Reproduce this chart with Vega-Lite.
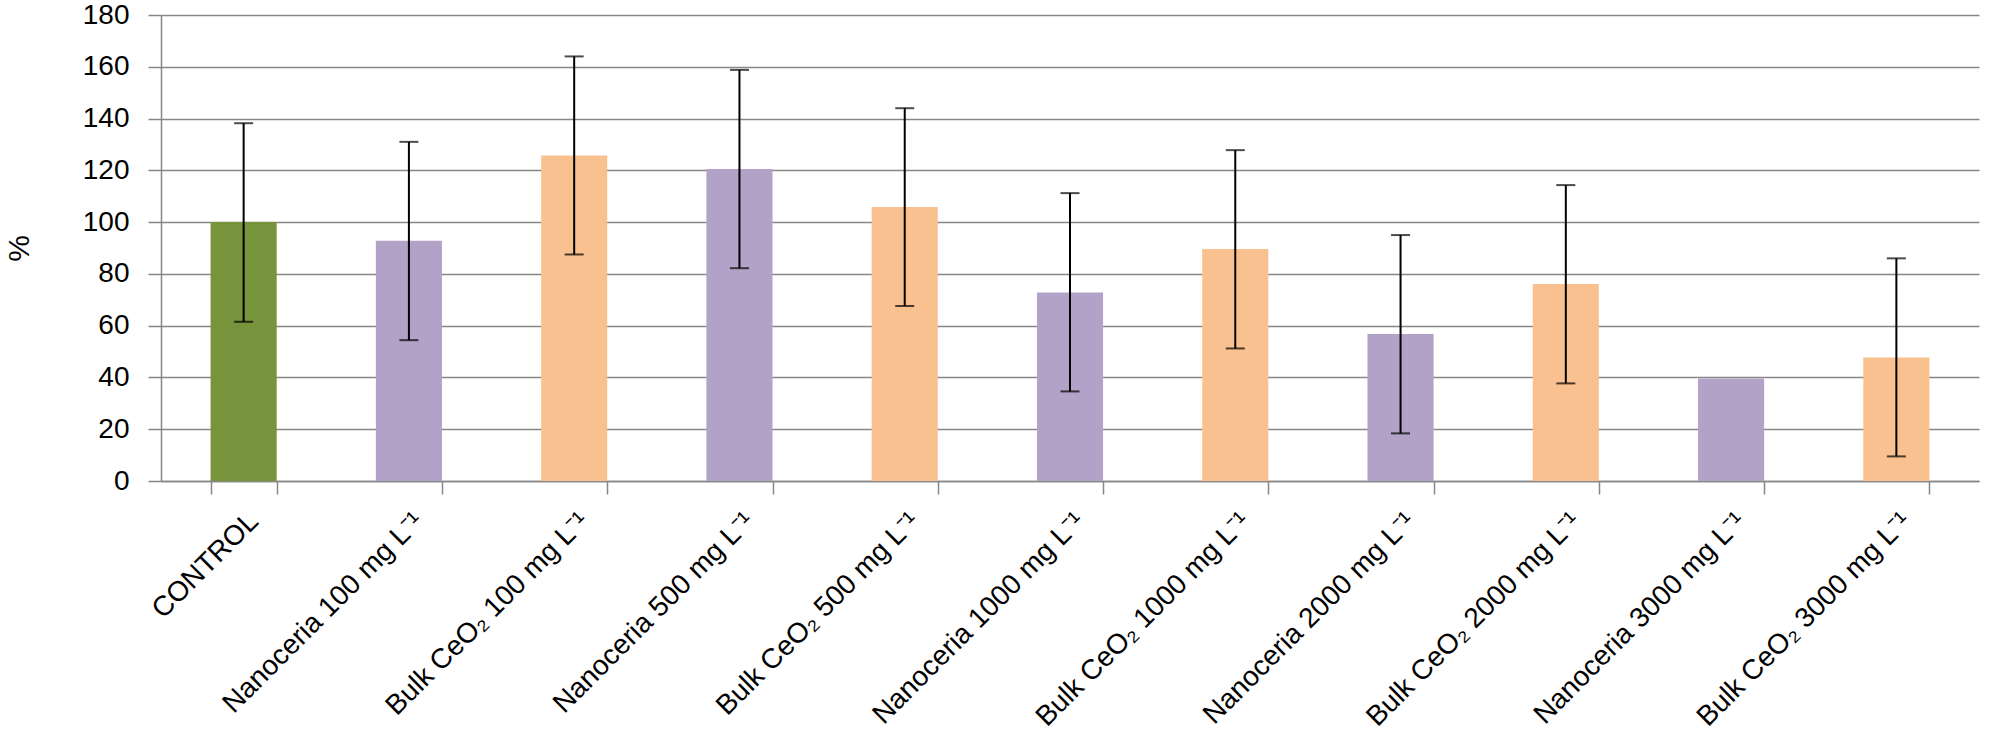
{
  "$schema": "https://vega.github.io/schema/vega-lite/v6.json",
  "width": 1818,
  "height": 466,
  "autosize": {"type": "none"},
  "padding": {"left": 161, "top": 15, "right": 14, "bottom": 253},
  "config": {
    "view": {"stroke": null},
    "font": "Liberation Sans",
    "axis": {
      "labelFont": "Liberation Sans",
      "titleFont": "Liberation Sans",
      "labelColor": "black",
      "titleColor": "black",
      "domainColor": "#878787",
      "domainWidth": 1.5,
      "tickColor": "#878787",
      "tickWidth": 1.5,
      "tickSize": 13,
      "gridColor": "#878787",
      "gridWidth": 1.5
    }
  },
  "data": {
    "values": [
      {"label": "CONTROL", "group": "control", "value": 100, "lo": 61.5, "hi": 138.2},
      {"label": "Nanoceria 100 mg L⁻¹", "group": "nano", "value": 92.8, "lo": 54.4, "hi": 131},
      {"label": "Bulk CeO₂ 100 mg L⁻¹", "group": "bulk", "value": 125.7, "lo": 87.5, "hi": 164},
      {"label": "Nanoceria 500 mg L⁻¹", "group": "nano", "value": 120.5, "lo": 82.2, "hi": 158.8},
      {"label": "Bulk CeO₂ 500 mg L⁻¹", "group": "bulk", "value": 105.8, "lo": 67.6, "hi": 144},
      {"label": "Nanoceria 1000 mg L⁻¹", "group": "nano", "value": 72.8, "lo": 34.6, "hi": 111.2},
      {"label": "Bulk CeO₂ 1000 mg L⁻¹", "group": "bulk", "value": 89.6, "lo": 51.2, "hi": 127.8},
      {"label": "Nanoceria 2000 mg L⁻¹", "group": "nano", "value": 56.8, "lo": 18.4, "hi": 95},
      {"label": "Bulk CeO₂ 2000 mg L⁻¹", "group": "bulk", "value": 76.1, "lo": 37.7, "hi": 114.3},
      {"label": "Nanoceria 3000 mg L⁻¹", "group": "nano", "value": 39.6, "lo": null, "hi": null},
      {"label": "Bulk CeO₂ 3000 mg L⁻¹", "group": "bulk", "value": 47.7, "lo": 9.5, "hi": 86}
    ]
  },
  "encoding": {
    "x": {
      "field": "label",
      "type": "nominal",
      "sort": null,
      "scale": {"paddingInner": 0.6, "paddingOuter": 0.3},
      "axis": {
        "title": null,
        "grid": false,
        "tickBand": "extent",
        "labelAngle": -45,
        "labelAlign": "right",
        "labelBaseline": "top",
        "labelFontSize": 28,
        "labelPadding": 13,
        "labelLimit": 600
      }
    }
  },
  "layer": [
    {
      "mark": {"type": "bar"},
      "encoding": {
        "y": {
          "field": "value",
          "type": "quantitative",
          "title": "%",
          "scale": {"domain": [0, 180]},
          "axis": {
            "values": [0, 20, 40, 60, 80, 100, 120, 140, 160, 180],
            "grid": true,
            "labelFontSize": 28,
            "labelPadding": 19,
            "titleFontSize": 30,
            "titleFontWeight": "normal",
            "titlePadding": 48
          }
        },
        "color": {
          "field": "group",
          "type": "nominal",
          "legend": null,
          "scale": {"domain": ["control", "nano", "bulk"], "range": ["#77933C", "#B3A2C7", "#F9C090"]}
        }
      }
    },
    {
      "transform": [{"filter": "datum.hi != null"}],
      "mark": {"type": "rule", "color": "black", "strokeWidth": 2},
      "encoding": {
        "y": {"field": "lo", "type": "quantitative", "title": "%"},
        "y2": {"field": "hi"}
      }
    },
    {
      "transform": [{"filter": "datum.hi != null"}],
      "mark": {"type": "tick", "color": "black", "thickness": 2, "size": 19},
      "encoding": {"y": {"field": "hi", "type": "quantitative", "title": "%"}}
    },
    {
      "transform": [{"filter": "datum.hi != null"}],
      "mark": {"type": "tick", "color": "black", "thickness": 2, "size": 19},
      "encoding": {"y": {"field": "lo", "type": "quantitative", "title": "%"}}
    }
  ]
}
